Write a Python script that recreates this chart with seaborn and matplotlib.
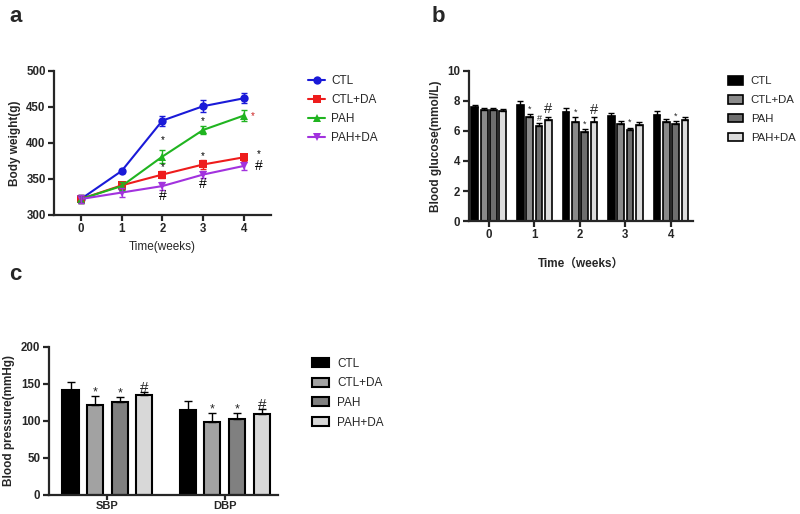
import numpy as np
import pandas as pd
import matplotlib
matplotlib.use("Agg")
import matplotlib.pyplot as plt
import seaborn as sns

groups = ["CTL", "CTL+DA", "PAH", "PAH+DA"]

# panel a - body weight
weeks = [0, 1, 2, 3, 4]
bw_mean = {
    "CTL": [322, 361, 431, 451, 462],
    "CTL+DA": [322, 341, 356, 370, 380],
    "PAH": [322, 340, 381, 418, 438],
    "PAH+DA": [322, 331, 340, 356, 368],
}
bw_err = {
    "CTL": [6, 3, 7, 8, 7],
    "CTL+DA": [5, 5, 5, 6, 5],
    "PAH": [5, 5, 9, 6, 8],
    "PAH+DA": [6, 6, 5, 5, 5],
}

# panel b - blood glucose
bg_weeks = ["0", "1", "2", "3", "4"]
bg_mean = {
    "CTL": [7.57, 7.75, 7.25, 6.97, 7.05],
    "CTL+DA": [7.40, 6.93, 6.60, 6.49, 6.60],
    "PAH": [7.40, 6.31, 5.92, 6.07, 6.44],
    "PAH+DA": [7.32, 6.75, 6.60, 6.38, 6.70],
}
bg_err = {
    "CTL": [0.15, 0.25, 0.25, 0.2, 0.3],
    "CTL+DA": [0.1, 0.2, 0.3, 0.15, 0.2],
    "PAH": [0.1, 0.2, 0.2, 0.15, 0.2],
    "PAH+DA": [0.15, 0.2, 0.3, 0.2, 0.2],
}

# panel c - blood pressure
bp_kind = ["SBP", "DBP"]
bp_mean = {
    "CTL": [142, 115],
    "CTL+DA": [121, 98],
    "PAH": [126, 103],
    "PAH+DA": [135, 110],
}
bp_err = {
    "CTL": [10, 12],
    "CTL+DA": [13, 13],
    "PAH": [7, 8],
    "PAH+DA": [4, 6],
}

line_colors = ["#1a1ad8", "#ee1c1c", "#20b420", "#a232de"]
line_markers = ["o", "s", "^", "v"]
bar_colors_b = ["#000000", "#8a8a8a", "#6e6e6e", "#dcdcdc"]
bar_colors_c = ["#000000", "#a2a2a2", "#808080", "#d8d8d8"]

sns.set_style("ticks")
plt.rcParams["font.family"] = ["Liberation Sans", "Noto Sans CJK SC", "DejaVu Sans"]
plt.rcParams["axes.linewidth"] = 1.6
plt.rcParams["xtick.major.width"] = 1.6
plt.rcParams["ytick.major.width"] = 1.6
plt.rcParams["xtick.major.size"] = 4
plt.rcParams["ytick.major.size"] = 4

fig = plt.figure(figsize=(8, 5.14), dpi=100)
ax_a = fig.add_axes([0.0675, 0.582, 0.271, 0.280])
ax_b = fig.add_axes([0.586, 0.570, 0.280, 0.292])
ax_c = fig.add_axes([0.061, 0.037, 0.286, 0.288])


def style_axes(ax):
    sns.despine(ax=ax)
    for lab in ax.get_xticklabels() + ax.get_yticklabels():
        lab.set_fontweight("bold")
        lab.set_fontsize(8.3)
    ax.tick_params(axis="both", pad=2)


# ---- panel a ----
rows = []
for g in groups:
    for w, m in zip(weeks, bw_mean[g]):
        rows.append({"week": w, "weight": m, "group": g})
df_a = pd.DataFrame(rows)
sns.lineplot(data=df_a, x="week", y="weight", hue="group", style="group",
             palette=line_colors, markers=line_markers, dashes=False,
             markersize=6, linewidth=1.5, markeredgewidth=0, ax=ax_a)
for g, c in zip(groups, line_colors):
    ax_a.errorbar(weeks, bw_mean[g], yerr=bw_err[g], fmt="none",
                  ecolor=c, elinewidth=1, capsize=2.5)
ax_a.set_xlim(-0.66, 4.66)
ax_a.set_ylim(300, 500)
ax_a.set_xticks(weeks)
ax_a.set_yticks([300, 350, 400, 450, 500])
ax_a.set_xlabel("Time(weeks)", fontsize=8.5)
ax_a.set_ylabel("Body weight(g)", fontsize=8.5, fontweight="bold")
style_axes(ax_a)
h, l = ax_a.get_legend_handles_labels()
ax_a.legend(h, l, loc="upper left", bbox_to_anchor=(0.372, 0.875),
            bbox_transform=fig.transFigure, frameon=False, fontsize=8.5,
            handlelength=1.45, handletextpad=0.5, labelspacing=0.6)

# significance marks, panel a
marks_a = [(2, 404, "*"), (2, 366, "*"), (2, 326, "#"),
           (3, 431, "*"), (3, 382, "*"), (3, 343, "#"),
           (4.22, 437, "*"), (4.37, 384, "*"), (4.37, 368, "#")]
for x, y, s in marks_a:
    ax_a.text(x, y, s, ha="center", va="center",
              fontsize=7 if s == "*" else 10,
              color="#cc2222" if (x == 4.22) else "black")

# ---- panel b ----
rows = []
for g in groups:
    for w, m in zip(bg_weeks, bg_mean[g]):
        rows.append({"week": w, "glucose": m, "group": g})
df_b = pd.DataFrame(rows)
sns.barplot(data=df_b, x="week", y="glucose", hue="group", palette=bar_colors_b,
            edgecolor="black", linewidth=1.2, width=0.82, gap=0.28,
            errorbar=None, ax=ax_b)
for cont, g in zip(ax_b.containers, groups):
    xs = [p.get_x() + p.get_width() / 2 for p in cont.patches]
    ys = [p.get_height() for p in cont.patches]
    ax_b.errorbar(xs, ys, yerr=[np.zeros(len(ys)), bg_err[g]], fmt="none",
                  ecolor="black", elinewidth=1, capsize=2)
ax_b.set_xlim(-0.44, 4.48)
ax_b.set_ylim(0, 10)
ax_b.set_yticks([0, 2, 4, 6, 8, 10])
ax_b.set_xlabel("Time（weeks）", fontsize=8.5, fontweight="bold", labelpad=12)
ax_b.set_ylabel("Blood glucose(mmol/L)", fontsize=8.5, fontweight="bold")
style_axes(ax_b)
h, l = ax_b.get_legend_handles_labels()
ax_b.legend(h, l, loc="upper left", bbox_to_anchor=(0.897, 0.872),
            bbox_transform=fig.transFigure, frameon=False, fontsize=8.2,
            handlelength=1.3, handleheight=0.8, handletextpad=0.7,
            labelspacing=0.75)

marks_b = {1: [(1, "*"), (2, "#"), (3, "#")], 2: [(1, "*"), (2, "*"), (3, "#")],
           3: [(2, "*")], 4: [(2, "*")]}
for wk, lst in marks_b.items():
    for gi, s in lst:
        p = ax_b.containers[gi].patches[wk]
        g = groups[gi]
        top = bg_mean[g][wk] + bg_err[g][wk]
        ax_b.text(p.get_x() + p.get_width() / 2, top + 0.05, s, ha="center",
                  va="bottom", fontsize=6.5 if s == "*" or gi == 2 else 10.5)

# ---- panel c ----
rows = []
for g in groups:
    for k, m in zip(bp_kind, bp_mean[g]):
        rows.append({"kind": k, "bp": m, "group": g})
df_c = pd.DataFrame(rows)
sns.barplot(data=df_c, x="kind", y="bp", hue="group", palette=bar_colors_c,
            edgecolor="black", linewidth=1.5, width=0.84, gap=0.35,
            errorbar=None, ax=ax_c)
for cont, g in zip(ax_c.containers, groups):
    xs = [p.get_x() + p.get_width() / 2 for p in cont.patches]
    ys = [p.get_height() for p in cont.patches]
    ax_c.errorbar(xs, ys, yerr=[np.zeros(len(ys)), bp_err[g]], fmt="none",
                  ecolor="black", elinewidth=1, capsize=3)
ax_c.set_xlim(-0.5, 1.45)
ax_c.set_ylim(0, 200)
ax_c.set_yticks([0, 50, 100, 150, 200])
ax_c.set_xlabel("")
ax_c.set_ylabel("Blood pressure(mmHg)", fontsize=8.5, fontweight="bold")
style_axes(ax_c)
ax_c.tick_params(axis="x", pad=0.5, length=3.5)
for lab in ax_c.get_xticklabels():
    lab.set_fontsize(8)
h, l = ax_c.get_legend_handles_labels()
ax_c.legend(h, l, loc="upper left", bbox_to_anchor=(0.377, 0.325),
            bbox_transform=fig.transFigure, frameon=False, fontsize=8.5,
            handlelength=1.4, handleheight=0.8, handletextpad=0.7,
            labelspacing=0.65)

for gi in [1, 2, 3]:
    g = groups[gi]
    for ki in range(2):
        p = ax_c.containers[gi].patches[ki]
        top = bp_mean[g][ki] + bp_err[g][ki]
        s = "#" if gi == 3 else "*"
        ax_c.text(p.get_x() + p.get_width() / 2, top - 4, s, ha="center",
                  va="bottom", fontsize=11 if s == "#" else 9)

# panel letters
fig.text(0.012, 0.968, "a", fontsize=16, fontweight="bold", va="center")
fig.text(0.54, 0.968, "b", fontsize=16, fontweight="bold", va="center")
fig.text(0.012, 0.465, "c", fontsize=16, fontweight="bold", va="center")

fig.savefig("out.png", dpi=100)
